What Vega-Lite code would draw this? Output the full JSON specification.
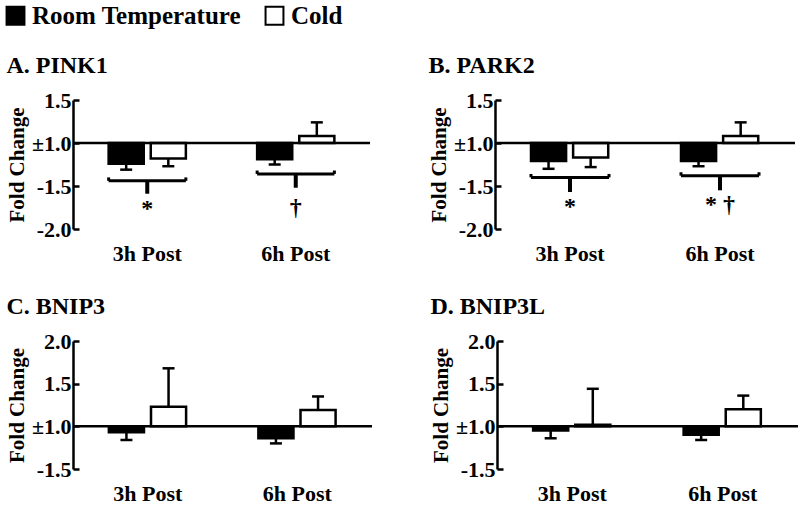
{
  "$schema": "https://vega.github.io/schema/vega-lite/v6.json",
  "background": "white",
  "padding": {"left": 3, "top": 3, "right": 0, "bottom": 0},
  "datasets": {
    "bars": [
      {"gene": "PINK1", "time": "3h Post", "group": "Room Temperature", "value": -0.24, "err": -0.31},
      {"gene": "PINK1", "time": "3h Post", "group": "Cold", "value": -0.18, "err": -0.27},
      {"gene": "PINK1", "time": "6h Post", "group": "Room Temperature", "value": -0.19, "err": -0.25},
      {"gene": "PINK1", "time": "6h Post", "group": "Cold", "value": 0.08, "err": 0.24},
      {"gene": "PARK2", "time": "3h Post", "group": "Room Temperature", "value": -0.21, "err": -0.30},
      {"gene": "PARK2", "time": "3h Post", "group": "Cold", "value": -0.17, "err": -0.28},
      {"gene": "PARK2", "time": "6h Post", "group": "Room Temperature", "value": -0.21, "err": -0.27},
      {"gene": "PARK2", "time": "6h Post", "group": "Cold", "value": 0.08, "err": 0.24},
      {"gene": "BNIP3", "time": "3h Post", "group": "Room Temperature", "value": -0.07, "err": -0.16},
      {"gene": "BNIP3", "time": "3h Post", "group": "Cold", "value": 0.23, "err": 0.68},
      {"gene": "BNIP3", "time": "6h Post", "group": "Room Temperature", "value": -0.14, "err": -0.20},
      {"gene": "BNIP3", "time": "6h Post", "group": "Cold", "value": 0.19, "err": 0.35},
      {"gene": "BNIP3L", "time": "3h Post", "group": "Room Temperature", "value": -0.05, "err": -0.14},
      {"gene": "BNIP3L", "time": "3h Post", "group": "Cold", "value": 0.02, "err": 0.44},
      {"gene": "BNIP3L", "time": "6h Post", "group": "Room Temperature", "value": -0.10, "err": -0.16},
      {"gene": "BNIP3L", "time": "6h Post", "group": "Cold", "value": 0.20, "err": 0.36}
    ],
    "sig": [
      {"gene": "PINK1", "time": "3h Post", "label": "*", "bracket": -0.44, "cap": -0.40, "stem": -0.59, "labelY": -0.77},
      {"gene": "PINK1", "time": "6h Post", "label": "†", "bracket": -0.36, "cap": -0.32, "stem": -0.52, "labelY": -0.76},
      {"gene": "PARK2", "time": "3h Post", "label": "*", "bracket": -0.40, "cap": -0.36, "stem": -0.57, "labelY": -0.74},
      {"gene": "PARK2", "time": "6h Post", "label": "* †", "bracket": -0.38, "cap": -0.34, "stem": -0.55, "labelY": -0.72}
    ],
    "base": [{"level": 0}]
  },
  "config": {
    "view": {"stroke": null},
    "font": "Liberation Serif, Times New Roman, Times, serif",
    "title": {"font": "Liberation Serif, Times New Roman, Times, serif", "fontWeight": "bold", "fontSize": 24, "anchor": "start", "frame": "bounds", "color": "black", "offset": 11},
    "axis": {"domainColor": "black", "domainWidth": 2.5, "tickColor": "black", "tickWidth": 2.5, "labelFont": "Liberation Serif, Times New Roman, Times, serif", "labelFontWeight": "bold", "labelColor": "black", "titleFont": "Liberation Serif, Times New Roman, Times, serif", "titleFontWeight": "bold", "titleColor": "black", "grid": false},
    "axisY": {"tickSize": -6, "labelFontSize": 22, "titleFontSize": 21, "labelPadding": 8, "titlePadding": 4},
    "axisX": {"domain": false, "ticks": false, "labelFontSize": 22, "labelPadding": 14, "labelAngle": 0},
    "legend": {"orient": "none", "legendX": -70, "legendY": -97, "direction": "horizontal", "symbolType": "square", "symbolSize": 320, "symbolStrokeColor": "black", "symbolStrokeWidth": 2, "labelFont": "Liberation Serif, Times New Roman, Times, serif", "labelFontWeight": "bold", "labelFontSize": 25, "labelColor": "black", "labelLimit": 400, "columnPadding": 20, "labelOffset": 4},
    "concat": {"spacing": 56}
  },
  "vconcat": [
    {
      "hconcat": [
        {
          "title": "A.  PINK1",
          "width": 297, "height": 129,
          "layer": [
            {"data": {"name": "bars"}, "transform": [{"filter": "datum.gene === 'PINK1'"}],
             "mark": {"type": "bar", "stroke": "black", "strokeWidth": 2.5},
             "encoding": {
               "x": {"field": "time", "type": "nominal", "title": null, "scale": {"domain": ["3h Post", "6h Post"], "paddingInner": 0.48, "paddingOuter": 0.24}},
               "xOffset": {"field": "group", "type": "nominal", "scale": {"domain": ["Room Temperature", "Cold"], "paddingInner": 0.1667, "paddingOuter": 0}},
               "y": {"field": "value", "type": "quantitative", "scale": {"domain": [-1, 0.5], "nice": false, "zero": false},
                     "axis": {"title": "Fold Change", "values": [-1, -0.75, -0.5, -0.25, 0, 0.25, 0.5], "labelExpr": "abs(datum.value * 2 - round(datum.value * 2)) > 0.01 ? '' : datum.value > 0 ? format(datum.value + 1, '.1f') : datum.value < 0 ? '-' + format(1 - datum.value, '.1f') : '±1.0'"}},
               "y2": {"datum": 0},
               "fill": {"field": "group", "type": "nominal", "title": null, "scale": {"domain": ["Room Temperature", "Cold"], "range": ["black", "white"]}}
             }},
            {"data": {"name": "bars"}, "transform": [{"filter": "datum.gene === 'PINK1'"}],
             "mark": {"type": "rule", "strokeWidth": 2.5, "color": "black"},
             "encoding": {"x": {"field": "time", "type": "nominal"}, "xOffset": {"field": "group", "type": "nominal"}, "y": {"field": "value", "type": "quantitative"}, "y2": {"field": "err"}}},
            {"data": {"name": "bars"}, "transform": [{"filter": "datum.gene === 'PINK1'"}],
             "mark": {"type": "tick", "size": 12, "thickness": 2.5, "color": "black", "opacity": 1},
             "encoding": {"x": {"field": "time", "type": "nominal"}, "xOffset": {"field": "group", "type": "nominal"}, "y": {"field": "err", "type": "quantitative"}}},
            {"data": {"name": "base"}, "mark": {"type": "rule", "strokeWidth": 2.5, "color": "black"},
             "encoding": {"y": {"field": "level", "type": "quantitative"}}},
            {"data": {"name": "sig"}, "transform": [{"filter": "datum.gene === 'PINK1'"}],
             "mark": {"type": "rule", "strokeWidth": 3, "color": "black"},
             "encoding": {"x": {"field": "time", "type": "nominal", "bandPosition": 0}, "x2": {"field": "time", "bandPosition": 1}, "y": {"field": "bracket", "type": "quantitative"}}},
            {"data": {"name": "sig"}, "transform": [{"filter": "datum.gene === 'PINK1'"}],
             "mark": {"type": "rule", "strokeWidth": 3, "color": "black"},
             "encoding": {"x": {"field": "time", "type": "nominal", "bandPosition": 0}, "y": {"field": "bracket", "type": "quantitative"}, "y2": {"field": "cap"}}},
            {"data": {"name": "sig"}, "transform": [{"filter": "datum.gene === 'PINK1'"}],
             "mark": {"type": "rule", "strokeWidth": 3, "color": "black"},
             "encoding": {"x": {"field": "time", "type": "nominal", "bandPosition": 1}, "y": {"field": "bracket", "type": "quantitative"}, "y2": {"field": "cap"}}},
            {"data": {"name": "sig"}, "transform": [{"filter": "datum.gene === 'PINK1'"}],
             "mark": {"type": "rule", "strokeWidth": 4, "color": "black"},
             "encoding": {"x": {"field": "time", "type": "nominal"}, "y": {"field": "bracket", "type": "quantitative"}, "y2": {"field": "stem"}}},
            {"data": {"name": "sig"}, "transform": [{"filter": "datum.gene === 'PINK1'"}],
             "mark": {"type": "text", "font": "Liberation Serif, Times New Roman, Times, serif", "fontWeight": "bold", "fontSize": 24, "color": "black", "baseline": "middle"},
             "encoding": {"x": {"field": "time", "type": "nominal"}, "y": {"field": "labelY", "type": "quantitative"}, "text": {"field": "label"}}}
          ]
        },
        {
          "title": "B.  PARK2",
          "width": 300, "height": 129,
          "layer": [
            {"data": {"name": "bars"}, "transform": [{"filter": "datum.gene === 'PARK2'"}],
             "mark": {"type": "bar", "stroke": "black", "strokeWidth": 2.5},
             "encoding": {
               "x": {"field": "time", "type": "nominal", "title": null, "scale": {"domain": ["3h Post", "6h Post"], "paddingInner": 0.48, "paddingOuter": 0.24}},
               "xOffset": {"field": "group", "type": "nominal", "scale": {"domain": ["Room Temperature", "Cold"], "paddingInner": 0.1667, "paddingOuter": 0}},
               "y": {"field": "value", "type": "quantitative", "scale": {"domain": [-1, 0.5], "nice": false, "zero": false},
                     "axis": {"title": "Fold Change", "values": [-1, -0.75, -0.5, -0.25, 0, 0.25, 0.5], "labelExpr": "abs(datum.value * 2 - round(datum.value * 2)) > 0.01 ? '' : datum.value > 0 ? format(datum.value + 1, '.1f') : datum.value < 0 ? '-' + format(1 - datum.value, '.1f') : '±1.0'"}},
               "y2": {"datum": 0},
               "fill": {"field": "group", "type": "nominal", "title": null, "scale": {"domain": ["Room Temperature", "Cold"], "range": ["black", "white"]}}
             }},
            {"data": {"name": "bars"}, "transform": [{"filter": "datum.gene === 'PARK2'"}],
             "mark": {"type": "rule", "strokeWidth": 2.5, "color": "black"},
             "encoding": {"x": {"field": "time", "type": "nominal"}, "xOffset": {"field": "group", "type": "nominal"}, "y": {"field": "value", "type": "quantitative"}, "y2": {"field": "err"}}},
            {"data": {"name": "bars"}, "transform": [{"filter": "datum.gene === 'PARK2'"}],
             "mark": {"type": "tick", "size": 12, "thickness": 2.5, "color": "black", "opacity": 1},
             "encoding": {"x": {"field": "time", "type": "nominal"}, "xOffset": {"field": "group", "type": "nominal"}, "y": {"field": "err", "type": "quantitative"}}},
            {"data": {"name": "base"}, "mark": {"type": "rule", "strokeWidth": 2.5, "color": "black"},
             "encoding": {"y": {"field": "level", "type": "quantitative"}}},
            {"data": {"name": "sig"}, "transform": [{"filter": "datum.gene === 'PARK2'"}],
             "mark": {"type": "rule", "strokeWidth": 3, "color": "black"},
             "encoding": {"x": {"field": "time", "type": "nominal", "bandPosition": 0}, "x2": {"field": "time", "bandPosition": 1}, "y": {"field": "bracket", "type": "quantitative"}}},
            {"data": {"name": "sig"}, "transform": [{"filter": "datum.gene === 'PARK2'"}],
             "mark": {"type": "rule", "strokeWidth": 3, "color": "black"},
             "encoding": {"x": {"field": "time", "type": "nominal", "bandPosition": 0}, "y": {"field": "bracket", "type": "quantitative"}, "y2": {"field": "cap"}}},
            {"data": {"name": "sig"}, "transform": [{"filter": "datum.gene === 'PARK2'"}],
             "mark": {"type": "rule", "strokeWidth": 3, "color": "black"},
             "encoding": {"x": {"field": "time", "type": "nominal", "bandPosition": 1}, "y": {"field": "bracket", "type": "quantitative"}, "y2": {"field": "cap"}}},
            {"data": {"name": "sig"}, "transform": [{"filter": "datum.gene === 'PARK2'"}],
             "mark": {"type": "rule", "strokeWidth": 4, "color": "black"},
             "encoding": {"x": {"field": "time", "type": "nominal"}, "y": {"field": "bracket", "type": "quantitative"}, "y2": {"field": "stem"}}},
            {"data": {"name": "sig"}, "transform": [{"filter": "datum.gene === 'PARK2'"}],
             "mark": {"type": "text", "font": "Liberation Serif, Times New Roman, Times, serif", "fontWeight": "bold", "fontSize": 24, "color": "black", "baseline": "middle"},
             "encoding": {"x": {"field": "time", "type": "nominal"}, "y": {"field": "labelY", "type": "quantitative"}, "text": {"field": "label"}}}
          ]
        }
      ]
    },
    {
      "hconcat": [
        {
          "title": "C.  BNIP3",
          "width": 299, "height": 128,
          "layer": [
            {"data": {"name": "bars"}, "transform": [{"filter": "datum.gene === 'BNIP3'"}],
             "mark": {"type": "bar", "stroke": "black", "strokeWidth": 2.5},
             "encoding": {
               "x": {"field": "time", "type": "nominal", "title": null, "scale": {"domain": ["3h Post", "6h Post"], "paddingInner": 0.48, "paddingOuter": 0.24}},
               "xOffset": {"field": "group", "type": "nominal", "scale": {"domain": ["Room Temperature", "Cold"], "paddingInner": 0.1667, "paddingOuter": 0}},
               "y": {"field": "value", "type": "quantitative", "scale": {"domain": [-0.5, 1], "nice": false, "zero": false},
                     "axis": {"title": "Fold Change", "values": [-0.5, -0.25, 0, 0.25, 0.5, 0.75, 1], "labelExpr": "abs(datum.value * 2 - round(datum.value * 2)) > 0.01 ? '' : datum.value > 0 ? format(datum.value + 1, '.1f') : datum.value < 0 ? '-' + format(1 - datum.value, '.1f') : '±1.0'"}},
               "y2": {"datum": 0},
               "fill": {"field": "group", "type": "nominal", "title": null, "scale": {"domain": ["Room Temperature", "Cold"], "range": ["black", "white"]}}
             }},
            {"data": {"name": "bars"}, "transform": [{"filter": "datum.gene === 'BNIP3'"}],
             "mark": {"type": "rule", "strokeWidth": 2.5, "color": "black"},
             "encoding": {"x": {"field": "time", "type": "nominal"}, "xOffset": {"field": "group", "type": "nominal"}, "y": {"field": "value", "type": "quantitative"}, "y2": {"field": "err"}}},
            {"data": {"name": "bars"}, "transform": [{"filter": "datum.gene === 'BNIP3'"}],
             "mark": {"type": "tick", "size": 12, "thickness": 2.5, "color": "black", "opacity": 1},
             "encoding": {"x": {"field": "time", "type": "nominal"}, "xOffset": {"field": "group", "type": "nominal"}, "y": {"field": "err", "type": "quantitative"}}},
            {"data": {"name": "base"}, "mark": {"type": "rule", "strokeWidth": 2.5, "color": "black"},
             "encoding": {"y": {"field": "level", "type": "quantitative"}}}
          ]
        },
        {
          "title": "D.  BNIP3L",
          "width": 301, "height": 128,
          "layer": [
            {"data": {"name": "bars"}, "transform": [{"filter": "datum.gene === 'BNIP3L'"}],
             "mark": {"type": "bar", "stroke": "black", "strokeWidth": 2.5},
             "encoding": {
               "x": {"field": "time", "type": "nominal", "title": null, "scale": {"domain": ["3h Post", "6h Post"], "paddingInner": 0.48, "paddingOuter": 0.24}},
               "xOffset": {"field": "group", "type": "nominal", "scale": {"domain": ["Room Temperature", "Cold"], "paddingInner": 0.1667, "paddingOuter": 0}},
               "y": {"field": "value", "type": "quantitative", "scale": {"domain": [-0.5, 1], "nice": false, "zero": false},
                     "axis": {"title": "Fold Change", "values": [-0.5, -0.25, 0, 0.25, 0.5, 0.75, 1], "labelExpr": "abs(datum.value * 2 - round(datum.value * 2)) > 0.01 ? '' : datum.value > 0 ? format(datum.value + 1, '.1f') : datum.value < 0 ? '-' + format(1 - datum.value, '.1f') : '±1.0'"}},
               "y2": {"datum": 0},
               "fill": {"field": "group", "type": "nominal", "title": null, "scale": {"domain": ["Room Temperature", "Cold"], "range": ["black", "white"]}}
             }},
            {"data": {"name": "bars"}, "transform": [{"filter": "datum.gene === 'BNIP3L'"}],
             "mark": {"type": "rule", "strokeWidth": 2.5, "color": "black"},
             "encoding": {"x": {"field": "time", "type": "nominal"}, "xOffset": {"field": "group", "type": "nominal"}, "y": {"field": "value", "type": "quantitative"}, "y2": {"field": "err"}}},
            {"data": {"name": "bars"}, "transform": [{"filter": "datum.gene === 'BNIP3L'"}],
             "mark": {"type": "tick", "size": 12, "thickness": 2.5, "color": "black", "opacity": 1},
             "encoding": {"x": {"field": "time", "type": "nominal"}, "xOffset": {"field": "group", "type": "nominal"}, "y": {"field": "err", "type": "quantitative"}}},
            {"data": {"name": "base"}, "mark": {"type": "rule", "strokeWidth": 2.5, "color": "black"},
             "encoding": {"y": {"field": "level", "type": "quantitative"}}}
          ]
        }
      ]
    }
  ],
  "spacing": 31
}
